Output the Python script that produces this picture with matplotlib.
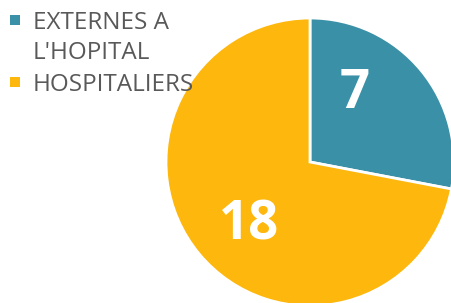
import matplotlib.pyplot as plt
from matplotlib.patches import Rectangle

labels = ["EXTERNES A\nL'HOPITAL", "HOSPITALIERS"]
values = [7, 18]
colors = ["#3A91A7", "#FDB70D"]

W, H = 451, 303
fig = plt.figure(figsize=(W / 100, H / 100), dpi=100)
# pie axes: center ~ (310,162) px, radius ~144 px
ax = fig.add_axes([166 / W, (H - 162 - 144) / H, 288 / W, 288 / H])

wedges, _ = ax.pie(values, colors=colors, startangle=90, counterclock=False,
                   wedgeprops=dict(edgecolor="white", linewidth=2))
ax.set_xlim(-1, 1)
ax.set_ylim(-1, 1)
ax.set_aspect("auto")
ax.axis("off")

# value labels (placed like the original)
label_pos = [(0.31, 0.47), (-0.42, -0.44)]
for v, (x, y) in zip(values, label_pos):
    ax.text(x, y, str(v), color="white", fontsize=38, fontweight="bold",
            family="Open Sans", ha="center", va="center")

# legend drawn by hand so the marker sits on the first line (like Excel)
row_top = [20, 82]  # pixel y of first-line centre
for lab, col, y in zip(labels, colors, row_top):
    fig.add_artist(Rectangle((10 / W, 1 - (y + 5) / H), 10 / W, 10 / H,
                             transform=fig.transFigure, color=col, lw=0))
    fig.text(33 / W, 1 - y / H, lab.split("\n")[0], color="#595959",
             family="Open Sans", fontsize=17.5, ha="left", va="center_baseline")
    for k, extra in enumerate(lab.split("\n")[1:], start=1):
        fig.text(33 / W, 1 - (y + 30 * k) / H, extra, color="#595959",
                 family="Open Sans", fontsize=17.5, ha="left", va="center_baseline")

fig.savefig("out.png", dpi=100)
